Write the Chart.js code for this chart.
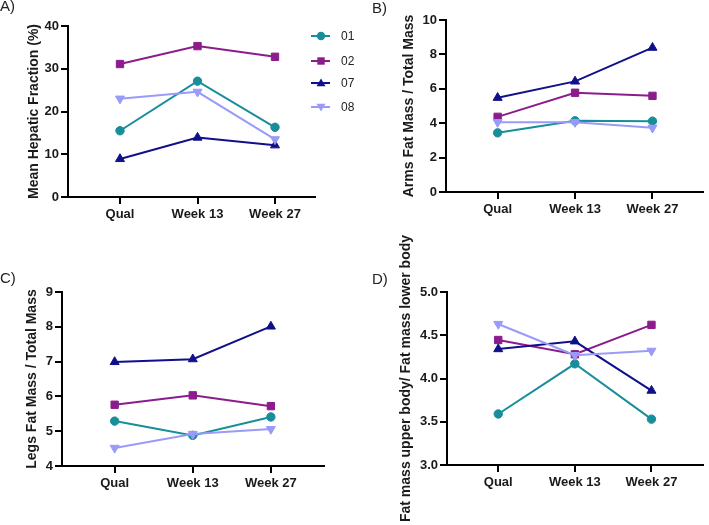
<!DOCTYPE html>
<html><head><meta charset="utf-8">
<script src="https://cdn.jsdelivr.net/npm/chart.js@4/dist/chart.umd.min.js"></script>
<style>
body{margin:0;width:709px;height:525px;position:relative;overflow:hidden;background:#fff;font-family:"Liberation Sans",Arial,sans-serif;}
canvas{position:absolute;}
.plabel{position:absolute;font-size:15px;line-height:15px;color:#222;}
.leg{position:absolute;left:311px;height:16px;display:flex;align-items:center;font-size:12px;color:#222;}
.leg svg{margin-right:11px;}
</style>
</head><body>
<canvas id="cA" width="360" height="250" style="left:0;top:0"></canvas>
<canvas id="cB" width="349" height="250" style="left:360px;top:0"></canvas>
<canvas id="cC" width="360" height="275" style="left:0;top:250px"></canvas>
<canvas id="cD" width="349" height="300" style="left:360px;top:225px"></canvas>
<div class="plabel" style="left:0;top:-2px">A)</div>
<div class="plabel" style="left:372px;top:0">B)</div>
<div class="plabel" style="left:0;top:270px">C)</div>
<div class="plabel" style="left:372px;top:271px">D)</div>
<div id="legend"></div>
<script>
// ---- data ----
const categories = ['Qual', 'Week 13', 'Week 27'];
const seriesNames = ['01', '02', '07', '08'];
const seriesColors = ['#178e9a', '#8c1c8c', '#10108a', '#9a9af8'];

const hep01 = [15.5, 27.1, 16.3];
const hep02 = [31.1, 35.3, 32.8];
const hep07 = [8.9, 13.9, 12.1];
const hep08 = [23.0, 24.6, 13.5];

const arms01 = [3.44, 4.14, 4.12];
const arms02 = [4.37, 5.77, 5.59];
const arms07 = [5.48, 6.43, 8.39];
const arms08 = [4.06, 4.06, 3.73];

const legs01 = [5.29, 4.88, 5.41];
const legs02 = [5.76, 6.03, 5.72];
const legs07 = [6.99, 7.07, 8.01];
const legs08 = [4.52, 4.92, 5.06];

const ratio01 = [3.59, 4.17, 3.53];
const ratio02 = [4.445, 4.28, 4.62];
const ratio07 = [4.34, 4.43, 3.86];
const ratio08 = [4.63, 4.27, 4.32];

const hepTicks = [0, 10, 20, 30, 40];
const armsTicks = [0, 2, 4, 6, 8, 10];
const legsTicks = [4, 5, 6, 7, 8, 9];
const ratioTicks = [3.0, 3.5, 4.0, 4.5, 5.0];

// ---- styling ----
const pointStyles = ['circle', 'rect', 'triangle', 'triangle'];
const pointRots = [0, 0, 0, 180];
const pointRadii = [4.2, 5.2, 5.2, 5.2];
const FONT = '"Liberation Sans", Arial, sans-serif';

function makePanel(id, seriesArr, yTicks, title, geo) {
  const datasets = seriesArr.map((vals, k) => ({
    label: seriesNames[k],
    data: vals.map((v, i) => ({x: i, y: v})),
    borderColor: seriesColors[k],
    backgroundColor: seriesColors[k],
    borderWidth: 2,
    pointStyle: pointStyles[k],
    rotation: pointRots[k],
    pointRadius: pointRadii[k],
    pointBorderWidth: 1,
    tension: 0,
    order: 4 - k
  })).reverse();
  const step = yTicks[1] - yTicks[0];
  const dec = step < 1 ? 1 : 0;
  new Chart(document.getElementById(id), {
    type: 'line',
    data: {datasets},
    options: {
      responsive: false, animation: false, devicePixelRatio: 1,
      layout: {padding: {left: 0, top: geo.top, right: geo.right, bottom: 0}},
      plugins: {legend: {display: false}, tooltip: {enabled: false}},
      scales: {
        x: {
          type: 'linear', min: geo.xmin, max: geo.xmax,
          afterBuildTicks: s => { s.ticks = categories.map((c, i) => ({value: i})); },
          afterFit: s => { s.height = geo.xh; },
          border: {display: true, color: '#000', width: 2},
          grid: {display: true, drawOnChartArea: false, drawTicks: true, tickLength: 7, color: '#000', lineWidth: 2},
          ticks: {autoSkip: false, maxRotation: 0, padding: 3, color: '#1a1a1a',
            font: {family: FONT, size: 13, weight: 'bold'},
            callback: v => categories[v]}
        },
        y: {
          type: 'linear', min: yTicks[0], max: yTicks[yTicks.length - 1],
          afterBuildTicks: s => { s.ticks = yTicks.map(v => ({value: v})); },
          afterFit: s => { s.width = geo.yw; },
          border: {display: true, color: '#000', width: 2},
          grid: {display: true, drawOnChartArea: false, drawTicks: true, tickLength: 7, color: '#000', lineWidth: 2},
          ticks: {padding: 2, color: '#1a1a1a', font: {family: FONT, size: 13, weight: 'bold'},
            callback: v => Number(v).toFixed(dec)},
          title: {display: true, text: title, color: '#1a1a1a',
            font: {family: FONT, size: 14, weight: 'bold'}, padding: {top: geo.tp, bottom: 0}}
        }
      }
    }
  });
}

makePanel('cA', [hep01, hep02, hep07, hep08], hepTicks, 'Mean Hepatic Fraction (%)',
  {top: 26, right: 45, xh: 53, yw: 68, xmin: -0.671, xmax: 2.516, tp: 26});
makePanel('cB', [arms01, arms02, arms07, arms08], armsTicks, 'Arms Fat Mass / Total Mass',
  {top: 20, right: 6, xh: 58, yw: 86, xmin: -0.667, xmax: 2.65, tp: 41});
makePanel('cC', [legs01, legs02, legs07, legs08], legsTicks, 'Legs Fat Mass / Total Mass',
  {top: 42, right: 36, xh: 59, yw: 62, xmin: -0.674, xmax: 2.68, tp: 24});
makePanel('cD', [ratio01, ratio02, ratio07, ratio08], ratioTicks, 'Fat mass upper body/ Fat mass lower body',
  {top: 67, right: 1, xh: 60, yw: 87, xmin: -0.669, xmax: 2.67, tp: 38});

// ---- legend (panel A) ----
const legendY = [35.7, 61, 83.3, 106.7];
const legendShapes = [
  c => `<circle cx="10" cy="6" r="4.2" fill="${c}"/>`,
  c => `<rect x="6.3" y="2.3" width="7.4" height="7.4" fill="${c}"/>`,
  c => `<polygon points="10,1.5 14.5,9.3 5.5,9.3" fill="${c}"/>`,
  c => `<polygon points="10,10.5 14.5,2.7 5.5,2.7" fill="${c}"/>`
];
const legEl = document.getElementById('legend');
seriesNames.forEach((name, k) => {
  const d = document.createElement('div');
  d.className = 'leg';
  d.style.top = (legendY[k] - 8) + 'px';
  d.innerHTML = `<svg width="19" height="12"><line x1="0" y1="6" x2="19" y2="6" stroke="${seriesColors[k]}" stroke-width="2"/>${legendShapes[k](seriesColors[k])}</svg><span>${name}</span>`;
  legEl.appendChild(d);
});
</script>
</body></html>
